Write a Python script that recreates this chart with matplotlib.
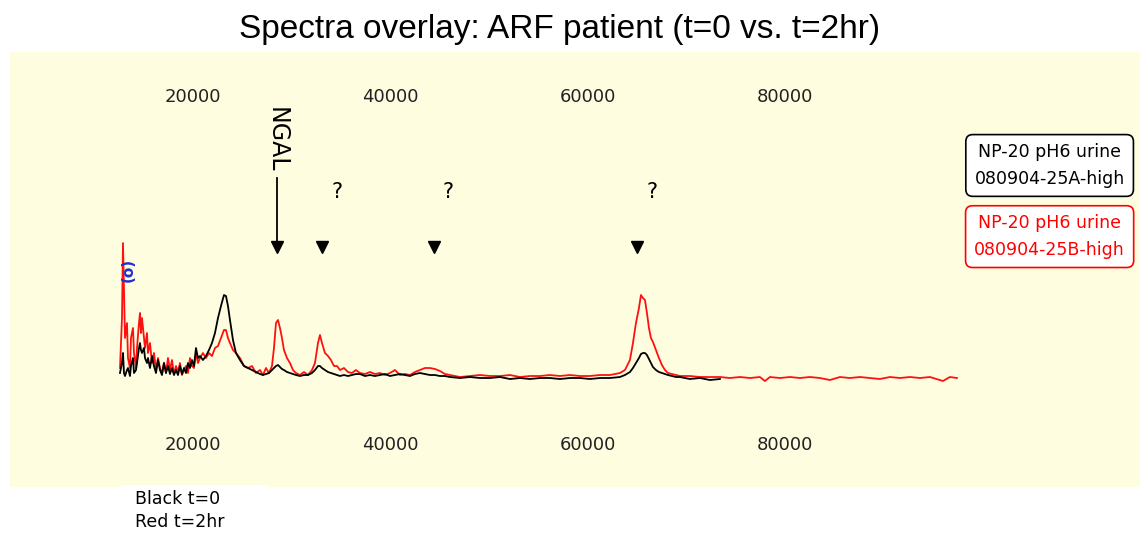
import numpy as np
import matplotlib
matplotlib.use("Agg")
import matplotlib.pyplot as plt
from matplotlib.patches import Rectangle

# mass (Da) grid shared by both spectra up to ~73 kDa
mass = [12605, 12808, 12909, 13010, 13112, 13314, 13416, 13618, 13719, 13922,
        14023, 14226, 14327, 14530, 14631, 14732, 14834, 15036, 15138, 15340,
        15442, 15644, 15847, 16049, 16252, 16455, 16657, 16860, 17063, 17265,
        17468, 17670, 17873, 18075, 18278, 18481, 18683, 18886, 19088, 19291,
        19494, 19696, 19899, 20101, 20304, 20507, 20709, 21013, 21317, 21621,
        21925, 22229, 22533, 22836, 23140, 23343, 23546, 23748, 24052, 24356,
        24761, 25166, 25572, 25977, 26382, 26787, 27091, 27395, 27699, 28003,
        28205, 28408, 28611, 28813, 29016, 29218, 29522, 29826, 30130, 30434,
        30839, 31244, 31650, 32055, 32359, 32663, 32865, 33068, 33372, 33676,
        33979, 34283, 34587, 34891, 35296, 35702, 36107, 36512, 36917, 37424,
        37930, 38437, 38943, 39450, 39956, 40463, 40969, 41476, 41982, 42489,
        42995, 43502, 44008, 44515, 45021, 45528, 46034, 47047, 48060, 49073,
        50086, 51099, 52112, 53125, 54138, 55151, 56164, 57177, 58190, 59203,
        60216, 61229, 62242, 63255, 63762, 64268, 64572, 64876, 65180, 65382,
        65585, 65788, 65990, 66193, 66395, 66598, 66902, 67206, 67510, 67814,
        68118, 68523, 68928, 69333, 70346, 71359, 72372, 73385]

# t=0 (black) intensity, arbitrary units
black_t0 = [5, 15, 25, 5, 2, 8, 10, 2, 12, 20,
            5, 8, 15, 30, 35, 28, 25, 30, 20, 15,
            20, 10, 22, 12, 5, 18, 8, 3, 15, 5,
            12, 4, 10, 3, 8, 3, 12, 4, 10, 5,
            15, 10, 18, 12, 30, 20, 22, 18, 22, 28,
            35, 45, 60, 72, 83, 82, 72, 58, 38, 25,
            18, 12, 10, 8, 6, 4, 3, 4, 5, 8,
            10, 12, 13, 11, 9, 8, 6, 5, 4, 3,
            2, 3, 3, 5, 8, 12, 12, 10, 8, 6,
            5, 4, 3, 2, 3, 2, 3, 4, 4, 2,
            3, 2, 3, 4, 2, 3, 4, 3, 2, 4,
            5, 4, 3, 3, 2, 2, 1, 0, 1, 0,
            0, 1, -1, 0, -1, 0, 0, -1, 0, 0,
            -1, 0, 0, 1, 3, 6, 10, 15, 20, 24,
            25, 25, 23, 19, 15, 11, 8, 6, 5, 4,
            3, 2, 1, 1, -1, 0, -2, -1]

# t=2hr (red) intensity
red_t2 = [10, 60, 135, 90, 40, 55, 20, 10, 40, 50,
          25, 10, 30, 55, 65, 45, 60, 40, 30, 45,
          25, 35, 15, 25, 8, 20, 10, 5, 15, 5,
          20, 8, 18, 4, 12, 6, 15, 3, 8, 12,
          5, 20, 12, 10, 25, 15, 20, 25, 20, 25,
          22, 30, 32, 40, 48, 48, 40, 35, 28, 25,
          20, 12, 10, 12, 5, 8, 3, 10, 5, 12,
          30, 55, 58, 50, 40, 28, 20, 15, 8, 5,
          3, 6, 3, 8, 15, 35, 43, 35, 25, 22,
          18, 12, 12, 8, 10, 6, 5, 8, 5, 4,
          6, 4, 5, 3, 5, 8, 3, 4, 3, 6,
          8, 10, 10, 9, 7, 4, 3, 1, 2, 3,
          2, 2, 3, 1, 2, 2, 3, 2, 3, 2,
          2, 3, 3, 5, 8, 18, 35, 55, 70, 83,
          80, 78, 65, 50, 40, 36, 28, 20, 13, 8,
          5, 4, 3, 2, 2, 1, 1, 1]

# red trace continues past the black one
red_tail_mass = [74398, 75411, 76424, 77437, 77944, 78450, 79463, 80476, 81489,
                 82502, 83515, 84528, 85541, 86554, 87567, 88580, 89593, 90606,
                 91619, 92632, 93645, 94658, 95975, 96684, 97393]
red_tail = [0, 1, 0, 1, -3, 1, 0, 1, 0,
            1, 0, -2, 1, 0, 1, 0, -1, 1,
            0, 1, 0, 1, -3, 1, 0]

tick_vals = [20000, 40000, 60000, 80000]
marked_peaks = [33100, 44400, 65000]
ngal_mass = 28500

fig = plt.figure(figsize=(11.44, 5.39), dpi=100)
fig.patches.append(Rectangle((0.0087, 0.0965), 0.988, 0.807, transform=fig.transFigure,
                             facecolor="#FFFDE0", edgecolor="none", zorder=-10))
fig.patches.append(Rectangle((0.105, 0.0), 0.128, 0.10, transform=fig.transFigure,
                             facecolor="white", edgecolor="none", zorder=-5))

ax = fig.add_axes([0.0874, 0.2022, 0.7517, 0.59])
ax.set_facecolor("none")
ax.plot(mass, black_t0, color="black", lw=1.3, zorder=3)
ax.plot(mass + red_tail_mass, red_t2 + red_tail, color="#FF1010", lw=1.3, zorder=2)

ax.set_xlim(10579, 97697)
ax.set_ylim(-52, 266)
ax.set_xticks(tick_vals)
ax.set_xticklabels([str(v) for v in tick_vals])
ax.tick_params(axis="x", length=0, labeltop=True, labelbottom=True, pad=4,
               labelsize=13, labelcolor="#222222")
ax.set_yticks([])
for s in ax.spines.values():
    s.set_visible(False)

# peak markers
ax.plot(marked_peaks + [ngal_mass], [131] * 4, linestyle="none", marker="v",
        color="black", markersize=9, zorder=4)
for m in marked_peaks:
    ax.text(m + 900, 186, "?", fontsize=15, ha="left", va="center")
ax.plot([ngal_mass, ngal_mass], [200, 135], color="black", lw=1.3)
ax.text(ngal_mass, 238, "NGAL", rotation=-90, fontsize=17, ha="center", va="center")

# blue marker glyph
ax.text(13400, 108, "(o)", rotation=90, color="#2030D0", fontsize=11,
        fontweight="bold", ha="center", va="center")

# legend boxes
fig.text(0.9175, 0.693, "NP-20 pH6 urine\n080904-25A-high", fontsize=12.5,
         ha="center", va="center", linespacing=1.6,
         bbox=dict(boxstyle="round,pad=0.5,rounding_size=0.4", facecolor="white",
                   edgecolor="black", lw=1.2))
fig.text(0.9175, 0.561, "NP-20 pH6 urine\n080904-25B-high", fontsize=12.5, color="red",
         ha="center", va="center", linespacing=1.6,
         bbox=dict(boxstyle="round,pad=0.5,rounding_size=0.4", facecolor="white",
                   edgecolor="red", lw=1.2))

fig.text(0.118, 0.053, "Black t=0\nRed t=2hr", fontsize=12.5, ha="left", va="center",
         linespacing=1.4, zorder=5)

fig.text(0.4895, 0.945, "Spectra overlay: ARF patient (t=0 vs. t=2hr)",
         fontsize=24, ha="center", va="center", family="Liberation Sans")

plt.savefig("out.png", dpi=100)
